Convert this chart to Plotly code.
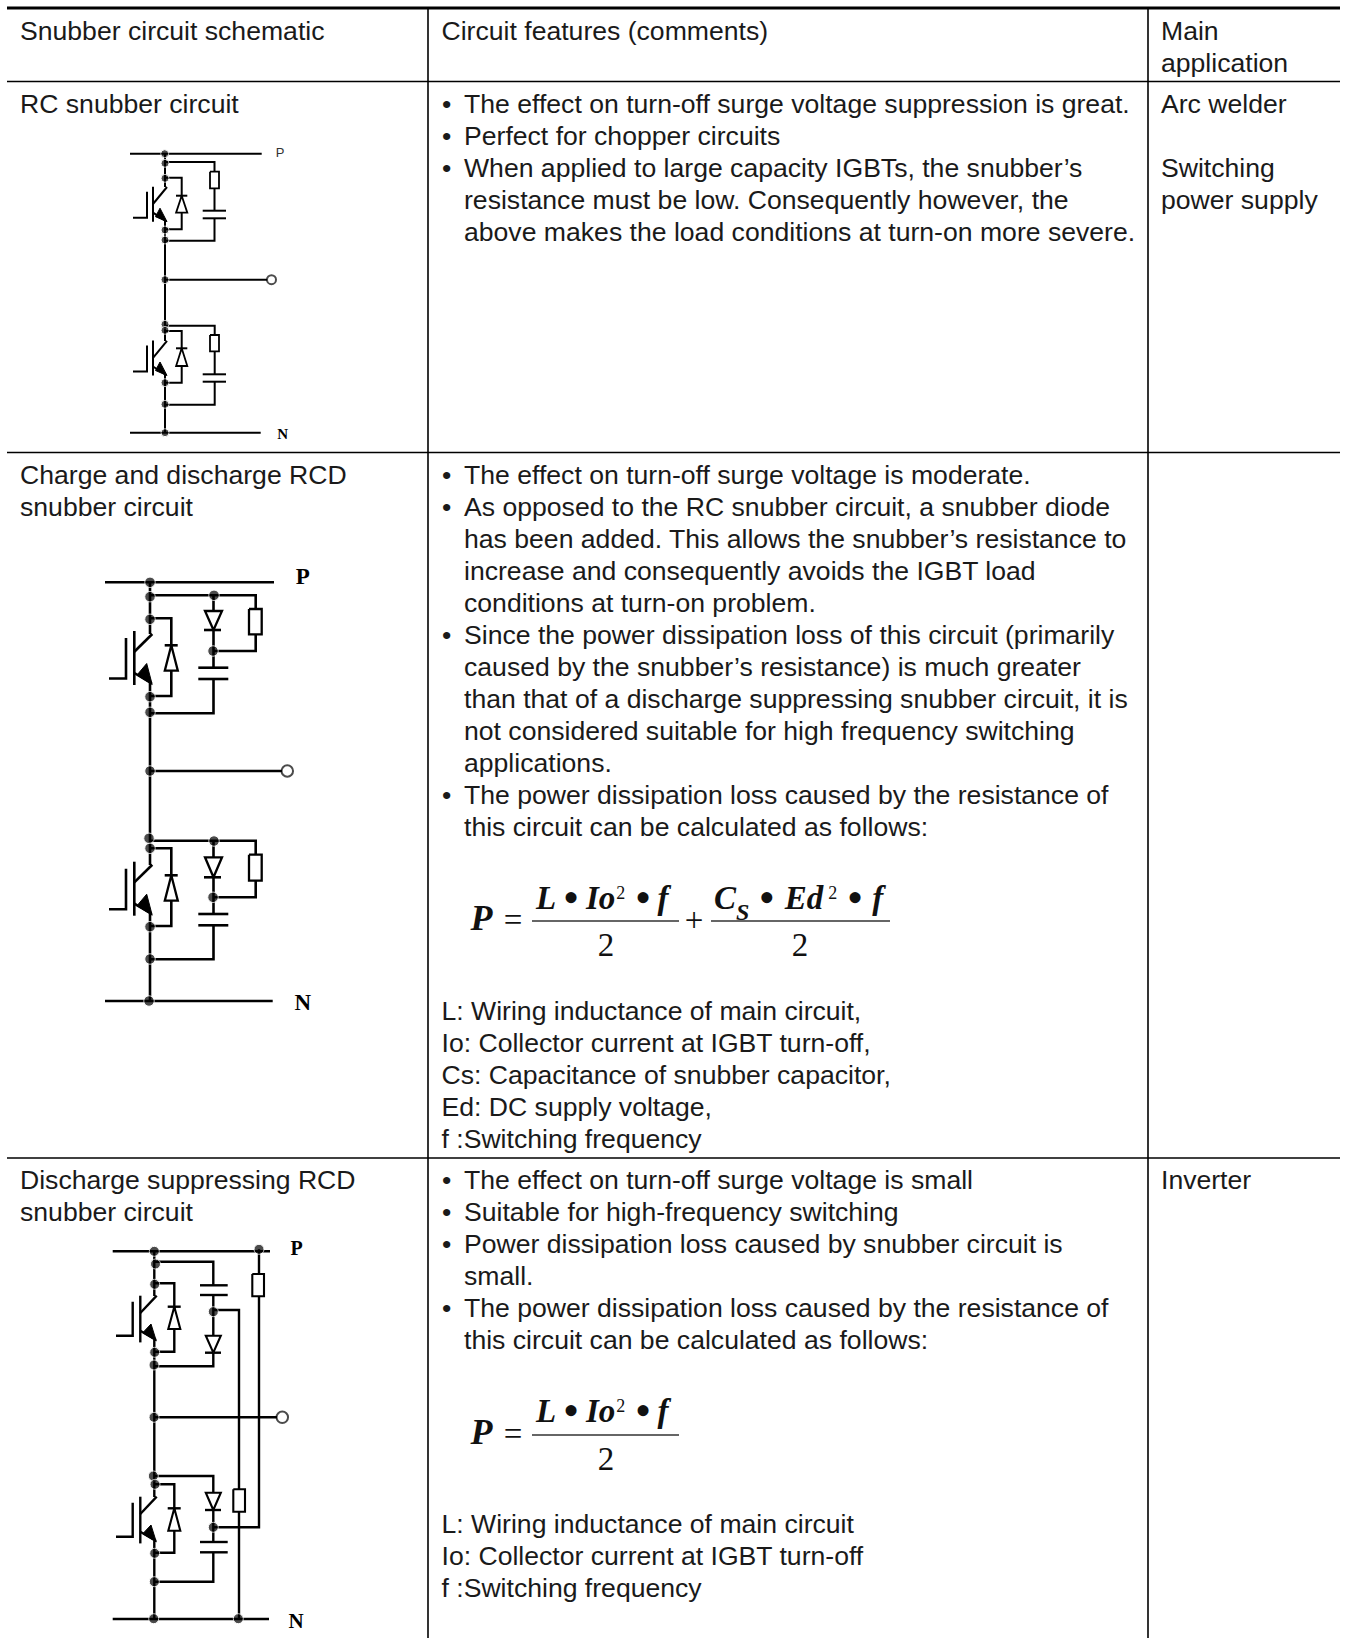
import plotly.graph_objects as go

# ---------- table rules ----------
rule_top_y = 8
rule_h_y = [81.5, 452.5, 1158]
rule_x0, rule_x1 = 7, 1340
rule_v_x = [428, 1148]
page_h = 1638

# ---------- table text (line start y, lines) ----------
pitch = 32
col1_x, col2_x, col2_bullet_text_x, col3_x = 20, 441.5, 464, 1161
col1_blocks = [
    (33, ["Snubber circuit schematic"]),
    (106.5, ["RC snubber circuit"]),
    (477.5, ["Charge and discharge RCD", "snubber circuit"]),
    (1182.5, ["Discharge suppressing RCD", "snubber circuit"]),
]
col2_plain = [
    (33, ["Circuit features (comments)"]),
    (1013.5, ["L: Wiring inductance of main circuit,", "Io: Collector current at IGBT turn-off,",
              "Cs: Capacitance of snubber capacitor,", "Ed: DC supply voltage,", "f :Switching frequency"]),
    (1526.5, ["L: Wiring inductance of main circuit", "Io: Collector current at IGBT turn-off",
              "f :Switching frequency"]),
]
col2_bullets = [
    (106.5, [("The effect on turn-off surge voltage suppression is great.",),
             ("Perfect for chopper circuits",),
             ("When applied to large capacity IGBTs, the snubber’s",
              "resistance must be low. Consequently however, the",
              "above makes the load conditions at turn-on more severe.")]),
    (477.5, [("The effect on turn-off surge voltage is moderate.",),
             ("As opposed to the RC snubber circuit, a snubber diode",
              "has been added. This allows the snubber’s resistance to",
              "increase and consequently avoids the IGBT load",
              "conditions at turn-on problem."),
             ("Since the power dissipation loss of this circuit (primarily",
              "caused by the snubber’s resistance) is much greater",
              "than that of a discharge suppressing snubber circuit, it is",
              "not considered suitable for high frequency switching",
              "applications."),
             ("The power dissipation loss caused by the resistance of",
              "this circuit can be calculated as follows:")]),
    (1182.5, [("The effect on turn-off surge voltage is small",),
              ("Suitable for high-frequency switching",),
              ("Power dissipation loss caused by snubber circuit is", "small."),
              ("The power dissipation loss caused by the resistance of",
               "this circuit can be calculated as follows:")]),
]
col3_blocks = [
    (33, ["Main", "application"]),
    (106.5, ["Arc welder", "", "Switching", "power supply"]),
    (1182.5, ["Inverter"]),
]

# ---------- formula pieces (text, x centre, y centre) ----------
formula_regular = [("=", 513, 923), ("2", 606, 948), ("+", 694, 923), ("2", 800, 948),
                   ("=", 513, 1437), ("2", 606, 1462)]
formula_bold = [("L", 546, 901), ("Io", 600.7, 901), ("f", 663, 901),
                ("C", 725, 901), ("Ed", 804, 901), ("f", 877.7, 901),
                ("L", 546, 1414), ("Io", 600.7, 1414), ("f", 663, 1414)]
formula_p = [("P", 481.5, 920.5), ("P", 481.5, 1434.5)]
formula_sup = [("2", 620.7, 894), ("2", 832.7, 894), ("2", 620.7, 1407)]
formula_sub = [("S", 742.7, 914)]
formula_dots = [("•", 571, 901), ("•", 643, 901), ("•", 766.7, 901), ("•", 855, 901),
                ("•", 571, 1414), ("•", 643, 1414)]
formula_bars = [(532, 679, 921), (711, 890, 921), (532, 679, 1435)]

# ---------- schematic geometry ----------
wires_rc = [
    [(130, 153.7), (261.7, 153.7)], [(130, 432.7), (260.7, 432.7)],
    [(165, 153.7), (165, 187)], [(165, 221), (165, 341)], [(165, 375), (165, 432.7)],
    [(165, 279.7), (267, 279.7)],
    [(165, 162), (214.5, 162), (214.5, 210.7)], [(202.7, 210.7), (226, 210.7)], [(202.7, 218.3), (226, 218.3)],
    [(214.5, 218.3), (214.5, 240.7), (165, 240.7)],
    [(165, 177.7), (181.7, 177.7), (181.7, 229.3), (165, 229.3)], [(176, 195.7), (187.3, 195.7)],
    [(165, 325.7), (214.7, 325.7), (214.7, 374.3)], [(202.7, 374.3), (226, 374.3)], [(202.7, 381.7), (226, 381.7)],
    [(214.7, 381.7), (214.7, 404.7), (165, 404.7)],
    [(165, 331), (181.7, 331), (181.7, 382.7), (165, 382.7)], [(176, 348.3), (187.3, 348.3)],
]
wires_rcd = [
    [(105, 582.3), (274, 582.3)], [(105, 1001), (272.7, 1001)],
    [(150, 582.3), (150, 634)], [(150, 683), (150, 865)], [(150, 914), (150, 1001)],
    [(150, 771), (282, 771)],
    [(150, 595.3), (255.7, 595.3), (255.7, 651), (213.5, 651)],
    [(213.5, 595.3), (213.5, 667.7)], [(198.3, 667.7), (228.3, 667.7)], [(198.3, 679), (228.3, 679)],
    [(213.5, 679), (213.5, 713.3), (150, 713.3)], [(204, 630), (221, 630)],
    [(150, 618.3), (171.3, 618.3), (171.3, 696), (150, 696)], [(164.7, 645.3), (177.7, 645.3)],
    [(150, 840.7), (255.7, 840.7), (255.7, 897.3), (213.5, 897.3)],
    [(213.5, 840.7), (213.5, 914)], [(198.3, 914), (228.3, 914)], [(198.3, 925.3), (228.3, 925.3)],
    [(213.5, 925.3), (213.5, 959.3), (150, 959.3)], [(204, 877.3), (221, 877.3)],
    [(150, 848.3), (171.3, 848.3), (171.3, 926), (150, 926)], [(164.7, 875.3), (177.7, 875.3)],
]
wires_dis = [
    [(112.7, 1251.3), (270, 1251.3)], [(112.7, 1619), (269, 1619)],
    [(154.3, 1251.3), (154.3, 1296)], [(154.3, 1340), (154.3, 1497)], [(154.3, 1541), (154.3, 1619)],
    [(154.3, 1417.3), (277, 1417.3)],
    [(259, 1249.3), (259, 1527.3), (213.3, 1527.3)],
    [(213.3, 1310), (239, 1310), (239, 1619)],
    [(155, 1261.7), (213.3, 1261.7), (213.3, 1285.3)], [(200, 1285.3), (227.7, 1285.3)], [(200, 1295), (227.7, 1295)],
    [(213.3, 1295), (213.3, 1366.3), (154.3, 1366.3)], [(205, 1352.7), (221, 1352.7)],
    [(154.3, 1283.3), (174.3, 1283.3), (174.3, 1351.7), (154.3, 1351.7)], [(167.7, 1306.7), (180.7, 1306.7)],
    [(154.3, 1476), (213.3, 1476), (213.3, 1542)], [(200, 1542), (227.7, 1542)], [(200, 1552.3), (227.7, 1552.3)],
    [(213.3, 1552.3), (213.3, 1581.7), (154.3, 1581.7)], [(205, 1510), (221, 1510)],
    [(154.3, 1484.3), (174.3, 1484.3), (174.3, 1552.7), (154.3, 1552.7)], [(167.7, 1508.3), (180.7, 1508.3)],
]
# IGBT bodies: gate lead, channel bar, collector diagonal, emitter diagonal
igbts = [
    (165, 186.7, "small"), (165, 340.5, "small"),
    (150, 631, "large"), (150, 861.7, "large"),
    (154.3, 1295.7, "mid"), (154.3, 1496.7, "mid"),
]
igbt_shapes = {
    "small": dict(lead=-32, stem=-18, stem_y=(5, 31), bar=-12, bar_h=35, col=((-12, 17.3), (2, 0.3)),
                  emi=((-12, 26), (1, 34.5)), arrow=[(2, 35), (-5, 21.5), (-9.5, 30)]),
    "large": dict(lead=-41, stem=-24, stem_y=(7, 47.5), bar=-15.7, bar_h=54, col=((-15.7, 20.7), (2.3, 3)),
                  emi=((-15.7, 42), (1.7, 52.3)), arrow=[(2.2, 53.5), (-3.3, 32.5), (-13, 44)]),
    "mid": dict(lead=-38.3, stem=-21.6, stem_y=(6, 40), bar=-14, bar_h=46.7, col=((-14, 17.3), (2.4, 0)),
                emi=((-14, 35), (1.7, 44.3)), arrow=[(2, 45.2), (-3.3, 28.3), (-11.5, 37)]),
}
# white-filled symbols
resistors = [
    (210, 219, 171.7, 188.3), (210, 219, 335, 351.3),
    (249, 261.7, 609, 634.3), (249, 261.7, 854.7, 880.7),
    (252.3, 264, 1274, 1296.3), (233.3, 245, 1489.3, 1511.7),
]
# diode triangles: apex (x, y), half width, base y
diodes = [
    (181.7, 195.7, 5.6, 212.7), (181.7, 348.3, 5.6, 366),
    (213.5, 630, 8.5, 611), (171.3, 645.3, 6.5, 670.7),
    (213.5, 877.3, 8.5, 857.3), (171.3, 875.3, 6.5, 900.7),
    (213.3, 1352.7, 7.5, 1335.7), (174.3, 1306.7, 6, 1329),
    (213.3, 1510, 7.5, 1492.7), (174.3, 1508.3, 6, 1530.7),
]
dots_x = [164.7, 165, 165, 165, 165, 165, 165, 165, 165, 165, 165,
          150, 150, 150, 150, 150, 150, 214, 213, 149, 150, 150, 150, 149, 214, 213,
          154.3, 155.5, 154.7, 154.7, 154, 154, 259, 213.3,
          153.3, 155, 154.7, 154.3, 153.7, 238.3, 213.3]
dots_y = [153.7, 163.3, 178.3, 230, 240, 279.7, 324.3, 330.3, 382.7, 404.3, 432.7,
          582.3, 596.7, 619.3, 696.7, 712.3, 771, 595.3, 651, 838.3, 848.3, 926.7, 959, 1001, 841, 897.3,
          1251.3, 1264, 1284.3, 1352.3, 1365, 1417.3, 1249.3, 1311.7,
          1476, 1484.3, 1553.3, 1581.7, 1618.7, 1618.7, 1527.3]
dot_sizes = [8] * 11 + [10.5] * 15 + [10] * 15
terminals_x = [271.5, 287.3, 282.3]
terminals_y = [279.7, 771, 1417.3]
terminal_sizes = [9, 11.5, 11.5]

terminal_labels = [("P", 280, 153.5, "Liberation Sans", 13, False, "#333333"),
                   ("N", 282.7, 435.5, "Liberation Serif", 15, True, "#000000"),
                   ("P", 302.7, 578.7, "Liberation Serif", 23, True, "#000000"),
                   ("N", 302.7, 1004.7, "Liberation Serif", 23, True, "#000000"),
                   ("P", 296.7, 1249.7, "Liberation Serif", 20, True, "#000000"),
                   ("N", 296, 1622.7, "Liberation Serif", 21, True, "#000000")]

# ---------- build ----------
fig = go.Figure()
TXT = "#1a1a1a"
BODY = 26.6
SERIF = "Liberation Serif"


def flatten(polys):
    xs, ys = [], []
    for p in polys:
        xs += [q[0] for q in p] + [None]
        ys += [q[1] for q in p] + [None]
    return xs, ys


def lines(polys, width, color="#000000"):
    xs, ys = flatten(polys)
    fig.add_trace(go.Scatter(x=xs, y=ys, mode="lines", line=dict(color=color, width=width), hoverinfo="skip"))


def texts(items, size=BODY, family="Liberation Sans", pos="middle right", color=TXT, weight="normal", style="normal"):
    fig.add_trace(go.Scatter(x=[i[1] for i in items], y=[i[2] for i in items], text=[i[0] for i in items],
                             mode="text", textposition=pos, cliponaxis=False,
                             textfont=dict(family=family, size=size, color=color, weight=weight, style=style),
                             hoverinfo="skip"))


# rules
lines([[(rule_x0, y), (rule_x1, y)] for y in rule_h_y] + [[(x, rule_top_y), (x, page_h)] for x in rule_v_x], 1.6)
lines([[(rule_x0, rule_top_y), (rule_x1, rule_top_y)]], 3)

# schematic wires + IGBTs
body_polys = {"small": [], "large": [], "mid": []}
arrows = []
for xb, top, kind in igbts:
    g = igbt_shapes[kind]
    body_polys[kind].append([(xb + g["lead"], top + g["stem_y"][1]), (xb + g["stem"], top + g["stem_y"][1]),
                             (xb + g["stem"], top + g["stem_y"][0])])
    body_polys[kind].append([(xb + g["bar"], top), (xb + g["bar"], top + g["bar_h"])])
    body_polys[kind].append([(xb + a, top + b) for a, b in g["col"]])
    body_polys[kind].append([(xb + a, top + b) for a, b in g["emi"]])
    arrows.append([(xb + a, top + b) for a, b in g["arrow"]] + [(xb + g["arrow"][0][0], top + g["arrow"][0][1])])
lines(wires_rc + body_polys["small"], 2.0)
lines(wires_rcd + body_polys["large"], 2.6)
lines(wires_dis + body_polys["mid"], 2.4)

# white-filled symbols
rect_polys = [[(a, c), (b, c), (b, d), (a, d), (a, c)] for a, b, c, d in resistors]
tri_polys = [[(x, y), (x - w, b), (x + w, b), (x, y)] for x, y, w, b in diodes]
for subset, width in (((rect_polys[:2] + tri_polys[:2]), 1.8),
                      ((rect_polys[2:4] + tri_polys[2:6]), 2.3),
                      ((rect_polys[4:] + tri_polys[6:]), 2.1)):
    xs, ys = flatten(subset)
    fig.add_trace(go.Scatter(x=xs, y=ys, mode="lines", fill="toself", fillcolor="#ffffff",
                             line=dict(color="#000000", width=width), hoverinfo="skip"))
xs, ys = flatten(arrows)
fig.add_trace(go.Scatter(x=xs, y=ys, mode="lines", fill="toself", fillcolor="#000000",
                         line=dict(color="#000000", width=1), hoverinfo="skip"))
fig.add_trace(go.Scatter(x=dots_x, y=dots_y, mode="markers", marker=dict(color="#000000", size=dot_sizes),
                         hoverinfo="skip"))
fig.add_trace(go.Scatter(x=terminals_x, y=terminals_y, mode="markers",
                         marker=dict(color="#ffffff", size=terminal_sizes, line=dict(color="#000000", width=2)),
                         hoverinfo="skip"))
for t, x, y, fam, sz, bold, col in terminal_labels:
    texts([(t, x, y)], size=sz, family=fam, pos="middle center", color=col, weight="bold" if bold else "normal")

# table text
plain = []
for y0, ls in col1_blocks:
    plain += [(t, col1_x, y0 + i * pitch) for i, t in enumerate(ls)]
for y0, ls in col2_plain:
    plain += [(t, col2_x, y0 + i * pitch) for i, t in enumerate(ls)]
for y0, ls in col3_blocks:
    plain += [(t, col3_x, y0 + i * pitch) for i, t in enumerate(ls) if t]
bullets = []
for y0, groups in col2_bullets:
    n = 0
    for grp in groups:
        bullets.append(("•", col2_x + 0.5, y0 + n * pitch))
        for t in grp:
            plain.append((t, col2_bullet_text_x, y0 + n * pitch))
            n += 1
texts(plain)
texts(bullets)

# formulas
lines([[(a, y), (b, y)] for a, b, y in formula_bars], 1.3, "#333333")
texts(formula_regular, size=33, family=SERIF, pos="middle center", color="#111111")
texts(formula_bold, size=33, family=SERIF, pos="middle center", color="#111111", weight="bold", style="italic")
texts(formula_p, size=36, family=SERIF, pos="middle center", color="#111111", weight="bold", style="italic")
texts(formula_sup, size=18, family=SERIF, pos="middle center", color="#111111")
texts(formula_sub, size=24, family=SERIF, pos="middle center", color="#111111", weight="bold", style="italic")
texts(formula_dots, size=46, family=SERIF, pos="middle center", color="#111111")

fig.update_layout(width=1348, height=1638, margin=dict(l=0, r=0, t=0, b=0), showlegend=False,
                  paper_bgcolor="#ffffff", plot_bgcolor="#ffffff",
                  xaxis=dict(range=[0, 1348], visible=False, fixedrange=True),
                  yaxis=dict(range=[1638, 0], visible=False, fixedrange=True))
fig.write_html("out.html", config={"displayModeBar": False},
               post_script="document.body.style.margin='0';document.documentElement.style.overflow='hidden';")
